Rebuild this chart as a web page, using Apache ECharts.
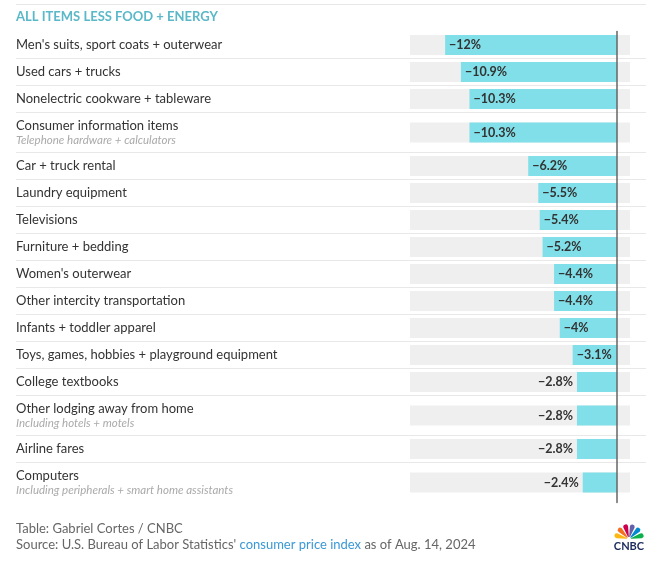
<!DOCTYPE html>
<html>
<head>
<meta charset="utf-8">
<script src="https://cdn.jsdelivr.net/npm/echarts@6/dist/echarts.min.js"></script>
<style>html,body{margin:0;padding:0;background:#fff}#c{width:660px;height:571px}</style>
</head>
<body>
<div id="c"></div>
<script>
const categories = [
  "Men's suits, sport coats + outerwear",
  "Used cars + trucks",
  "Nonelectric cookware + tableware",
  "Consumer information items",
  "Car + truck rental",
  "Laundry equipment",
  "Televisions",
  "Furniture + bedding",
  "Women's outerwear",
  "Other intercity transportation",
  "Infants + toddler apparel",
  "Toys, games, hobbies + playground equipment",
  "College textbooks",
  "Other lodging away from home",
  "Airline fares",
  "Computers"
];
const subtitles = [
  "", "", "", "Telephone hardware + calculators", "", "", "", "", "", "", "", "", "",
  "Including hotels + motels", "", "Including peripherals + smart home assistants"
];
const values = [-12, -10.9, -10.3, -10.3, -6.2, -5.5, -5.4, -5.2, -4.4, -4.4, -4, -3.1, -2.8, -2.8, -2.8, -2.4];
const headerText = "ALL ITEMS LESS FOOD + ENERGY";
const creditText = "Table: Gabriel Cortes / CNBC";

const FONT = 'Lato, "Open Sans", sans-serif';
const X_MIN = -14.45, X_MAX = 0.9;
const LEFT = 410, RIGHT = 30, BAR_H = 20;
const TOP0 = 31.5;

const fmt = v => (v < 0 ? '\u2212' : '') + Math.abs(v) + '%';

const grids = [], xAxes = [], yAxes = [], series = [], graphics = [];
let y = TOP0;
const seps = [4.5];
categories.forEach((cat, i) => {
  const h = subtitles[i] ? 40 : 27;
  grids.push({ left: LEFT, right: RIGHT, top: y + (h - BAR_H) / 2, height: BAR_H });
  xAxes.push({ gridIndex: i, type: 'value', min: X_MIN, max: X_MAX, show: false });
  yAxes.push({
    gridIndex: i, type: 'category', data: [cat],
    axisLine: { show: false }, axisTick: { show: false },
    axisLabel: {
      show: true, align: 'left', margin: LEFT - 16,
      formatter: function (c) {
        return subtitles[i] ? '{a|' + c + '}\n{b|' + subtitles[i] + '}' : '{a|' + c + '}';
      },
      rich: {
        a: { fontFamily: FONT, fontSize: 13, color: '#333', lineHeight: 16 },
        b: { fontFamily: FONT, fontSize: 11.5, fontStyle: 'italic', color: '#aaa', lineHeight: 14 }
      }
    }
  });
  const inside = Math.abs(values[i]) >= 3;
  series.push({
    type: 'bar', xAxisIndex: i, yAxisIndex: i,
    data: [values[i]], barWidth: BAR_H,
    showBackground: true, backgroundStyle: { color: '#efefef' },
    itemStyle: { color: '#80dfe8' },
    silent: true, animation: false,
    label: {
      show: true, position: inside ? 'insideLeft' : 'left', distance: 4,
      formatter: p => fmt(p.value), color: '#333', fontWeight: 'bold',
      fontSize: 12.5, fontFamily: FONT
    }
  });
  y += h;
  if (i < categories.length - 1) seps.push(y);
});
const bottom = y;

// zero line grid
const zi = categories.length;
grids.push({ left: LEFT, right: RIGHT, top: TOP0, height: bottom - TOP0 });
xAxes.push({ gridIndex: zi, type: 'value', min: X_MIN, max: X_MAX, show: false });
yAxes.push({
  gridIndex: zi, type: 'category', data: [''], z: 10,
  axisLine: { show: true, onZero: true, lineStyle: { color: '#666', width: 1.5 } },
  axisTick: { show: false }, axisLabel: { show: false }
});

seps.forEach(sy => {
  graphics.push({ type: 'line', silent: true, z: -1,
    shape: { x1: 16, y1: sy, x2: 646, y2: sy },
    style: { stroke: '#e8e8e8', lineWidth: 1 } });
});
graphics.push({ type: 'text', left: 16, top: 10,
  style: { text: headerText, fill: '#5ab8c8', font: 'bold 13px ' + FONT } });
graphics.push({ type: 'text', left: 16, top: 522,
  style: { text: creditText, fill: '#666', font: '13px ' + FONT } });
graphics.push({ type: 'text', left: 16, top: 538,
  style: {
    text: "{a|Source: U.S. Bureau of Labor Statistics' }{b|consumer price index}{a| as of Aug. 14, 2024}",
    rich: {
      a: { fill: '#666', fontSize: 13, fontFamily: FONT },
      b: { fill: '#3a98d6', fontSize: 13, fontFamily: FONT }
    }
  } });
// CNBC logo
const peacock = ['#fcb711', '#f37021', '#cc004c', '#6460aa', '#0089d0', '#0db14b'];
peacock.forEach((c, k) => {
  const a0 = Math.PI + k * Math.PI / 6;
  graphics.push({ type: 'sector', silent: true,
    shape: { cx: 629, cy: 539, r: 15, r0: 2, startAngle: a0 + 0.07, endAngle: a0 + Math.PI / 6 - 0.07, cornerRadius: 4 },
    style: { fill: c } });
});
graphics.push({ type: 'text', x: 629, y: 546, silent: true,
  style: { text: 'CNBC', fill: '#1b2a5c', font: 'bold 11px ' + FONT, textAlign: 'center', textVerticalAlign: 'middle' } });

const chart = echarts.init(document.getElementById('c'), null, { renderer: 'canvas' });
chart.setOption({
  animation: false,
  backgroundColor: '#fff',
  grid: grids, xAxis: xAxes, yAxis: yAxes, series: series, graphic: graphics
});
</script>
</body>
</html>
